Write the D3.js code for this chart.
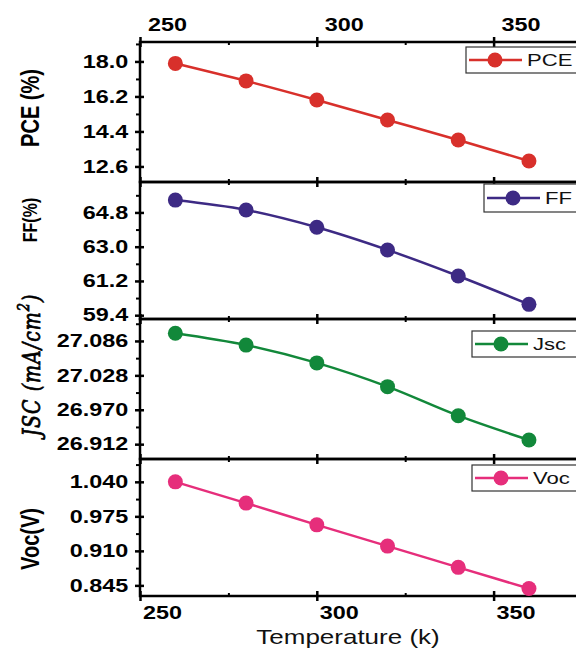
<!DOCTYPE html>
<html>
<head>
<meta charset="utf-8">
<script src="https://cdn.jsdelivr.net/npm/d3@7"></script>
<style>
  body { margin: 0; background: #fff; }
  svg { display: block; font-family: "Liberation Sans", Arial, sans-serif; }
</style>
</head>
<body>
<div id="chart"></div>
<script>
// data
var temperature = [260, 280, 300, 320, 340, 360];
var pceValues = [17.9, 17.0, 16.02, 14.99, 13.96, 12.88];
var ffValues = [65.45, 64.93, 64.02, 62.83, 61.46, 59.97];
var jscValues = [27.099, 27.079, 27.049, 27.009, 26.960, 26.919];
var vocValues = [1.040, 1.000, 0.959, 0.919, 0.879, 0.839];

var xMajorTicks = [250, 300, 350];
var xMinorTicks = [275, 325, 375];
var pceTicks = [12.6, 14.4, 16.2, 18.0];
var ffTicks = [59.4, 61.2, 63.0, 64.8];
var jscTicks = [26.912, 26.970, 27.028, 27.086];
var vocTicks = [0.845, 0.910, 0.975, 1.040];

var width = 576, height = 649;
var xLeft = 140, xRight = 582;
var stretch = 1.3; // the original text is drawn wide

var panels = [
  {name: "PCE", values: pceValues, ticks: pceTicks, fmt: ".1f", domain: [11.8, 19.0],
   top: 42, bottom: 182, color: "#d8302b", label: "PCE (%)", labelSize: 20, labelY: 108,
   legend: {x: 466, y: 47, h: 26}},
  {name: "FF", values: ffValues, ticks: ffTicks, fmt: ".1f", domain: [59.2, 66.4],
   top: 182, bottom: 319, color: "#3d2a84", label: "FF(%)", labelSize: 16, labelY: 220,
   legend: {x: 484, y: 184, h: 28}},
  {name: "Jsc", values: jscValues, ticks: jscTicks, fmt: ".3f", domain: [26.887, 27.123],
   top: 319, bottom: 459, color: "#12883a", label: null, labelY: 365,
   legend: {x: 472, y: 331, h: 26}},
  {name: "Voc", values: vocValues, ticks: vocTicks, fmt: ".3f", domain: [0.825, 1.083],
   top: 459, bottom: 596, color: "#e62e7b", label: "Voc(V)", labelSize: 20, labelY: 539,
   legend: {x: 472, y: 465, h: 26}}
];

var svg = d3.select("#chart")
  .append("svg")
    .attr("width", width)
    .attr("height", height);

var x = d3.scaleLinear()
  .domain([250, 375])
  .range([xLeft, xRight]);

// tick marks only, no labels, no domain line
function tickMarks(g, axis, values, size, sw, translate) {
  g.append("g")
    .attr("transform", translate)
    .call(axis.tickValues(values).tickSize(size).tickFormat(""))
    .call(function(s) { s.select(".domain").remove(); })
    .selectAll("line").attr("stroke-width", sw);
}

function minorOf(ticks, domain) {
  var step = ticks[1] - ticks[0];
  var out = [];
  ticks.forEach(function(t) {
    [t - step / 2, t + step / 2].forEach(function(m) {
      if (m > domain[0] && m < domain[1] && out.indexOf(+m.toFixed(4)) < 0) out.push(+m.toFixed(4));
    });
  });
  return out;
}

panels.forEach(function(p, i) {
  var y = d3.scaleLinear()
    .domain(p.domain)
    .range([p.bottom, p.top]);
  var g = svg.append("g");
  var yMinor = minorOf(p.ticks, p.domain);

  // left axis: labels + crossing major ticks + outward minor ticks
  var yl = g.append("g")
    .attr("transform", "translate(" + xLeft + ",0)")
    .call(d3.axisLeft(y).tickValues(p.ticks).tickSize(0).tickPadding(9).tickFormat(d3.format(p.fmt)));
  yl.select(".domain").remove();
  yl.selectAll("text")
    .attr("font-size", 18)
    .attr("font-weight", "bold")
    .attr("fill", "#000")
    .attr("transform", "scale(" + stretch + ",1)");
  tickMarks(g, d3.axisLeft(y), p.ticks, 5, 2.5, "translate(" + xLeft + ",0)");
  tickMarks(g, d3.axisRight(y), p.ticks, 4, 2.5, "translate(" + xLeft + ",0)");
  tickMarks(g, d3.axisLeft(y), yMinor, 4, 2, "translate(" + xLeft + ",0)");
  // right axis ticks (inward)
  tickMarks(g, d3.axisLeft(y), p.ticks, 6, 1.5, "translate(" + xRight + ",0)");

  // inward x ticks on top and bottom edges of each panel
  tickMarks(g, d3.axisBottom(x), xMajorTicks, 5, 2.5, "translate(0," + p.top + ")");
  tickMarks(g, d3.axisTop(x), xMajorTicks, 5, 2.5, "translate(0," + p.bottom + ")");
  tickMarks(g, d3.axisBottom(x), xMinorTicks, 3, 2, "translate(0," + p.top + ")");
  tickMarks(g, d3.axisTop(x), xMinorTicks, 3, 2, "translate(0," + p.bottom + ")");

  // frame
  g.append("rect")
    .attr("x", xLeft)
    .attr("y", p.top)
    .attr("width", xRight - xLeft)
    .attr("height", p.bottom - p.top)
    .attr("fill", "none")
    .attr("stroke", "#000")
    .attr("stroke-width", 2.5);

  // line + points
  var pts = temperature.map(function(t, k) { return {t: t, v: p.values[k]}; });
  g.append("path")
    .datum(pts)
    .attr("fill", "none")
    .attr("stroke", p.color)
    .attr("stroke-width", 2.5)
    .attr("d", d3.line()
      .curve(d3.curveMonotoneX)
      .x(function(d) { return x(d.t); })
      .y(function(d) { return y(d.v); }));
  g.append("g")
    .selectAll("circle")
    .data(pts)
    .enter()
    .append("circle")
      .attr("cx", function(d) { return x(d.t); })
      .attr("cy", function(d) { return y(d.v); })
      .attr("r", 7.5)
      .attr("fill", p.color);

  // y title
  if (p.label) {
    g.append("text")
      .attr("transform", "translate(30," + p.labelY + ") scale(" + stretch + ",1) rotate(-90)")
      .attr("text-anchor", "middle")
      .attr("dy", "0.35em")
      .attr("font-size", p.labelSize)
      .attr("font-weight", "bold")
      .attr("fill", "#000")
      .text(p.label);
  } else {
    var jt = g.append("text")
      .attr("transform", "translate(31," + p.labelY + ") scale(" + stretch + ",1) rotate(-90)")
      .attr("text-anchor", "middle")
      .attr("dy", "0.35em")
      .attr("font-family", "'DejaVu Serif', 'Liberation Serif', serif")
      .attr("font-style", "italic")
      .attr("font-size", 19)
      .attr("letter-spacing", 1)
      .attr("fill", "#000")
      .attr("stroke", "#000")
      .attr("stroke-width", 0.6);
    jt.append("tspan").text("JSC (mA/cm");
    jt.append("tspan").attr("font-size", 13).attr("dy", -8).text("2");
    jt.append("tspan").attr("dy", 8).text(")");
  }

  // legend
  var L = p.legend;
  var lg = g.append("g").attr("transform", "translate(" + L.x + "," + L.y + ")");
  lg.append("rect")
    .attr("width", 130).attr("height", L.h)
    .attr("fill", "#fff").attr("stroke", "#333").attr("stroke-width", 1.2);
  lg.append("line")
    .attr("x1", 3).attr("x2", 56).attr("y1", L.h / 2).attr("y2", L.h / 2)
    .attr("stroke", p.color).attr("stroke-width", 2.5);
  lg.append("circle")
    .attr("cx", 29).attr("cy", L.h / 2).attr("r", 7.5).attr("fill", p.color);
  lg.append("text")
    .attr("transform", "translate(61," + (L.h / 2) + ") scale(" + stretch + ",1)")
    .attr("dy", "0.36em")
    .attr("font-size", 17)
    .attr("fill", "#111")
    .text(p.name);
});

// top and bottom x labels
var xt = svg.append("g")
  .attr("transform", "translate(0," + panels[0].top + ")")
  .call(d3.axisTop(x).tickValues(xMajorTicks).tickSize(5));
xt.select(".domain").remove();
xt.selectAll("line").attr("stroke-width", 2.5);
xt.selectAll("text")
  .attr("y", -11).attr("dy", 0)
  .attr("font-size", 18).attr("font-weight", "bold").attr("fill", "#000")
  .attr("transform", "translate(27,0) scale(" + stretch + ",1)");

var xb = svg.append("g")
  .attr("transform", "translate(0," + panels[3].bottom + ")")
  .call(d3.axisBottom(x).tickValues(xMajorTicks).tickSize(5));
xb.select(".domain").remove();
xb.selectAll("line").attr("stroke-width", 2.5);
xb.selectAll("text")
  .attr("y", 23.5).attr("dy", 0)
  .attr("font-size", 18).attr("font-weight", "bold").attr("fill", "#000")
  .attr("transform", "translate(22,0) scale(" + stretch + ",1)");

svg.append("text")
  .attr("transform", "translate(348,644) scale(" + stretch + ",1)")
  .attr("text-anchor", "middle")
  .attr("font-size", 20)
  .attr("fill", "#111")
  .text("Temperature (k)");
</script>
</body>
</html>
